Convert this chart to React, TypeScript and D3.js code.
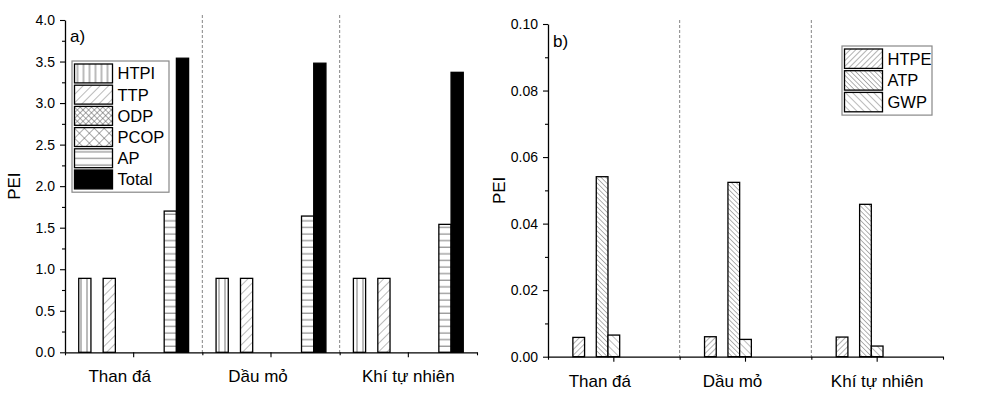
import React, { useEffect, useRef } from 'react';
import * as d3 from 'd3';

const categories = ['Than đá', 'Dầu mỏ', 'Khí tự nhiên'];

// panel a)
const seriesA = ['HTPI', 'TTP', 'ODP', 'PCOP', 'AP', 'Total'];
const htpi = [0.89, 0.89, 0.89];
const ttp = [0.89, 0.89, 0.89];
const odp = [0, 0, 0];
const pcop = [0, 0, 0];
const ap = [1.7, 1.64, 1.54];
const total = [3.54, 3.48, 3.37];
const ticksA = [0, 0.5, 1, 1.5, 2, 2.5, 3, 3.5, 4];

// panel b)
const seriesB = ['HTPE', 'ATP', 'GWP'];
const htpe = [0.0058, 0.006, 0.0059];
const atp = [0.0541, 0.0524, 0.0458];
const gwp = [0.0065, 0.0052, 0.0032];
const ticksB = [0, 0.02, 0.04, 0.06, 0.08, 0.1];

const FONT = 'Arial, "Liberation Sans", sans-serif';
// the first two category labels sit a bit left of their ticks in the original
const labelShift = [-14, -13, 0];

const Defs = () => (
    <defs>
        <pattern id="p-vert" width="6" height="6" patternUnits="userSpaceOnUse">
            <rect width="6" height="6" fill="#fff" />
            <line x1="3" y1="0" x2="3" y2="6" stroke="#777" strokeWidth="1" />
        </pattern>
        <pattern id="p-slash" width="6" height="6" patternUnits="userSpaceOnUse" patternTransform="rotate(45)">
            <rect width="6" height="6" fill="#fff" />
            <line x1="0" y1="0" x2="0" y2="6" stroke="#777" strokeWidth="1" />
        </pattern>
        <pattern id="p-fine-x" width="4" height="4" patternUnits="userSpaceOnUse" patternTransform="rotate(45)">
            <rect width="4" height="4" fill="#fff" />
            <line x1="0" y1="0" x2="0" y2="4" stroke="#555" strokeWidth="1" />
            <line x1="0" y1="0" x2="4" y2="0" stroke="#555" strokeWidth="1" />
        </pattern>
        <pattern id="p-wide-x" width="7" height="7" patternUnits="userSpaceOnUse" patternTransform="rotate(45)">
            <rect width="7" height="7" fill="#fff" />
            <line x1="0" y1="0" x2="0" y2="7" stroke="#555" strokeWidth="1" />
            <line x1="0" y1="0" x2="7" y2="0" stroke="#555" strokeWidth="1" />
        </pattern>
        <pattern id="p-horiz" width="6.6" height="6.6" patternUnits="userSpaceOnUse">
            <rect width="6.6" height="6.6" fill="#fff" />
            <line x1="0" y1="3" x2="6.6" y2="3" stroke="#777" strokeWidth="1" />
        </pattern>
        <pattern id="p-slash-dense" width="4" height="4" patternUnits="userSpaceOnUse" patternTransform="rotate(45)">
            <rect width="4" height="4" fill="#fff" />
            <line x1="0" y1="0" x2="0" y2="4" stroke="#666" strokeWidth="1" />
        </pattern>
        <pattern id="p-back-dense" width="3.4" height="3.4" patternUnits="userSpaceOnUse" patternTransform="rotate(-45)">
            <rect width="3.4" height="3.4" fill="#fff" />
            <line x1="0" y1="0" x2="0" y2="3.4" stroke="#666" strokeWidth="1" />
        </pattern>
        <pattern id="p-back" width="5" height="5" patternUnits="userSpaceOnUse" patternTransform="rotate(-45)">
            <rect width="5" height="5" fill="#fff" />
            <line x1="0" y1="0" x2="0" y2="5" stroke="#777" strokeWidth="1" />
        </pattern>
    </defs>
);

const drawPanel = (svg, cfg) => {
    const g = svg.append('g');

    const x = d3.scaleBand().domain(categories).range(cfg.xRange).padding(0);
    const y = d3.scaleLinear().domain(cfg.yDomain).range(cfg.yRange);
    const bw = x.bandwidth();
    // 9 slots over the middle 80% of each category
    const slot = d3.scaleBand().domain(d3.range(9)).range([-0.4 * bw, 0.4 * bw]);
    const bounds = d3.range(categories.length + 1).map(i => cfg.xRange[0] + i * bw);
    const xLin = d3.scaleLinear().domain([cfg.xRange[0], cfg.xRange[1]]).range(cfg.xRange);

    // dashed separators
    g.selectAll('.sep')
        .data(bounds.slice(1, -1))
        .enter()
        .append('line')
        .attr('x1', d => d).attr('x2', d => d)
        .attr('y1', cfg.sepTop).attr('y2', y(0))
        .attr('stroke', '#666')
        .attr('stroke-width', 0.8)
        .attr('stroke-dasharray', '3,2');

    // bars
    cfg.series.forEach((s, si) => {
        g.selectAll(`.bar-${si}`)
            .data(s.values.map((v, i) => ({ v, c: categories[i] })).filter(d => d.v > 0))
            .enter()
            .append('rect')
            .attr('x', d => x(d.c) + bw / 2 + slot(s.slot))
            .attr('width', slot.bandwidth())
            .attr('y', d => y(d.v))
            .attr('height', d => y(0) - y(d.v))
            .attr('fill', s.fill)
            .attr('stroke', '#000')
            .attr('stroke-width', 1.3);
    });

    // y axis
    const yAxis = g.append('g')
        .attr('transform', `translate(${cfg.xRange[0]},0)`)
        .call(d3.axisLeft(y).tickValues(cfg.ticks).tickFormat(d3.format(cfg.fmt)).tickSize(5).tickSizeOuter(0).tickPadding(5));
    const step = cfg.ticks[1] - cfg.ticks[0];
    g.append('g')
        .attr('transform', `translate(${cfg.xRange[0]},0)`)
        .call(d3.axisLeft(y).tickValues(cfg.ticks.slice(0, -1).map(t => t + step / 2)).tickFormat('').tickSize(3).tickSizeOuter(0))
        .select('.domain').remove();

    // x axis
    const xAxis = g.append('g')
        .attr('transform', `translate(0,${y(0)})`)
        .call(d3.axisBottom(x).tickSize(5).tickSizeOuter(0));
    g.append('g')
        .attr('transform', `translate(0,${y(0)})`)
        .call(d3.axisBottom(xLin).tickValues(bounds).tickFormat('').tickSize(3).tickSizeOuter(0))
        .select('.domain').remove();

    svg.selectAll('.domain').attr('stroke', '#000').attr('stroke-width', 1.3);
    svg.selectAll('.tick line').attr('stroke', '#000').attr('stroke-width', 1.1);
    yAxis.selectAll('text').attr('font-size', 14).attr('font-family', FONT).attr('fill', '#000');
    xAxis.selectAll('text')
        .attr('font-size', 17)
        .attr('font-family', FONT)
        .attr('fill', '#000')
        .attr('y', 18)
        .attr('x', (d, i) => labelShift[i]);

    // axis title
    g.append('text')
        .attr('transform', `translate(${cfg.titleX},${(y(0) + y(cfg.yDomain[1])) / 2}) rotate(-90)`)
        .attr('text-anchor', 'middle')
        .attr('font-size', 17)
        .attr('font-family', FONT)
        .text('PEI');

    g.append('text')
        .attr('x', cfg.xRange[0] + 5)
        .attr('y', cfg.tagY)
        .attr('font-size', 17)
        .attr('font-family', FONT)
        .text(cfg.tag);

    // legend
    const lg = g.append('g').attr('transform', `translate(${cfg.legend.x},${cfg.legend.y})`);
    const rowH = cfg.legend.rowH;
    lg.append('rect')
        .attr('width', cfg.legend.w)
        .attr('height', cfg.series.length * rowH + 4)
        .attr('fill', '#fff')
        .attr('stroke', '#888')
        .attr('stroke-width', 1.2);
    const rows = lg.selectAll('.row')
        .data(cfg.series)
        .enter()
        .append('g')
        .attr('transform', (d, i) => `translate(2.5,${3 + i * rowH})`);
    rows.append('rect')
        .attr('width', 38)
        .attr('height', rowH - 2.3)
        .attr('fill', d => d.fill)
        .attr('stroke', '#000')
        .attr('stroke-width', 1.3);
    rows.append('text')
        .attr('x', 43)
        .attr('y', (rowH - 2.3) / 2)
        .attr('dy', '0.36em')
        .attr('font-size', 16.5)
        .attr('font-family', FONT)
        .text(d => d.name);
};

const App = () => {
    const svgRef = useRef();

    useEffect(() => {
        const svg = d3.select(svgRef.current);
        svg.selectAll('g').remove();

        const fillsA = ['url(#p-vert)', 'url(#p-slash)', 'url(#p-fine-x)', 'url(#p-wide-x)', 'url(#p-horiz)', '#000'];
        const valuesA = [htpi, ttp, odp, pcop, ap, total];
        const slotsA = [0, 2, 4, 6, 7, 8];
        drawPanel(svg, {
            xRange: [65, 477],
            yRange: [352.3, 20],
            yDomain: [0, 4],
            ticks: ticksA,
            fmt: '.1f',
            sepTop: 15,
            titleX: 20,
            tag: 'a)',
            tagY: 42,
            series: seriesA.map((name, i) => ({ name, values: valuesA[i], fill: fillsA[i], slot: slotsA[i] })),
            legend: { x: 72, y: 61, w: 97, rowH: 21.2 },
        });

        const fillsB = ['url(#p-slash-dense)', 'url(#p-back-dense)', 'url(#p-back)'];
        const valuesB = [htpe, atp, gwp];
        const slotsB = [1, 3, 4];
        drawPanel(svg, {
            xRange: [548, 943],
            yRange: [356.7, 24],
            yDomain: [0, 0.1],
            ticks: ticksB,
            fmt: '.2f',
            sepTop: 20,
            titleX: 505,
            tag: 'b)',
            tagY: 47,
            series: seriesB.map((name, i) => ({ name, values: valuesB[i], fill: fillsB[i], slot: slotsB[i] })),
            legend: { x: 842, y: 46, w: 90, rowH: 21.7 },
        });
    }, []);

    return (
        <div style={{ position: 'absolute', left: 0, top: 0 }}>
            <svg ref={svgRef} width={983} height={393} style={{ display: 'block', background: '#fff' }}>
                <Defs />
            </svg>
        </div>
    );
};

export default App;
